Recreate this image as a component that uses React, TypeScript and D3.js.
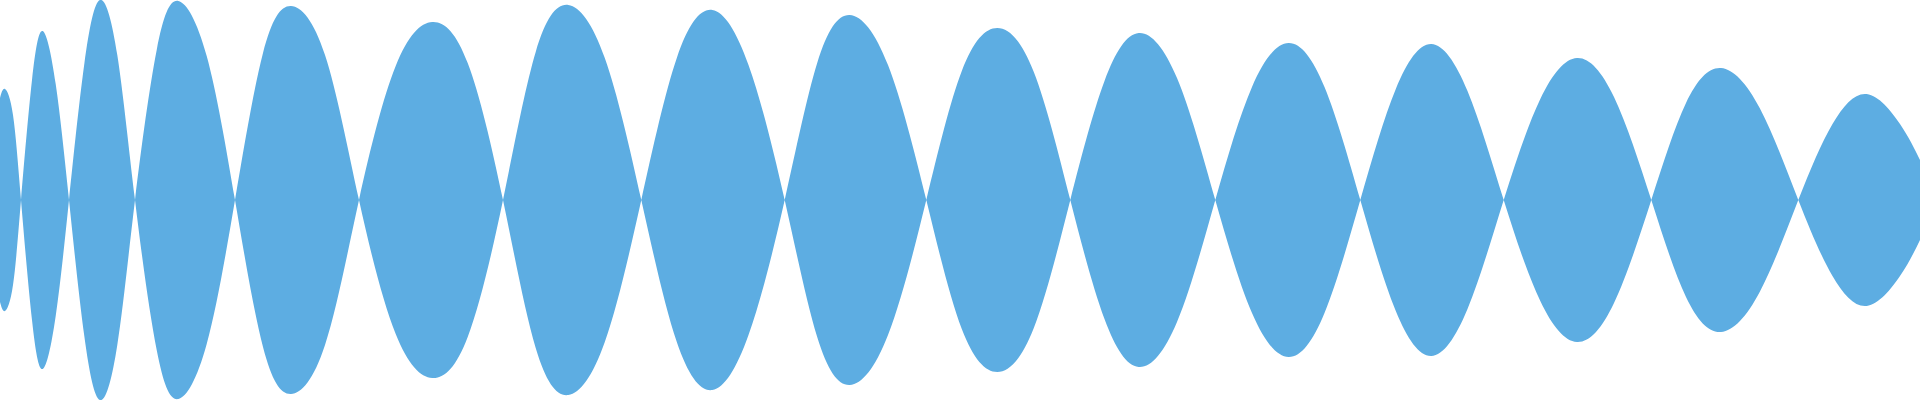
import React from "react";
import * as d3 from "d3";

// Waveform samples: zero crossings, half-way flank points and peaks
// (time in samples, amplitude normalised to ±1)
const times: number[] = [
  0, 5, 13, 21,
  32, 42.7, 55.7, 69,
  84.3, 100, 117.3, 135,
  156.7, 178.3, 206.7, 235,
  263, 291, 325, 359,
  395.7, 432.3, 467.7, 503,
  535.7, 568.3, 604.8, 641.3,
  676.8, 712.3, 748.5, 784.7,
  817.2, 849.7, 888, 926.3,
  961.8, 997.3, 1033.8, 1070.3,
  1104.5, 1138.7, 1177, 1215.3,
  1252, 1288.7, 1324.5, 1360.3,
  1395.8, 1431.3, 1467.5, 1503.7,
  1540.3, 1577, 1614, 1651.3,
  1686, 1721, 1759.7, 1798.3,
  1832.5, 1866.7, 1900, 1920,
];

const amplitudes: number[] = [
  0.51, 0.555, 0.425, 0,
  -0.6, -0.845, -0.58, 0,
  0.68, 1.0, 0.725, 0,
  -0.75, -0.995, -0.72, 0,
  0.735, 0.97, 0.725, 0,
  -0.67, -0.89, -0.685, 0,
  0.74, 0.975, 0.71, 0,
  -0.71, -0.95, -0.675, 0,
  0.685, 0.925, 0.675, 0,
  -0.645, -0.86, -0.64, 0,
  0.595, 0.835, 0.61, 0,
  -0.565, -0.785, -0.565, 0,
  0.555, 0.78, 0.545, 0,
  -0.505, -0.71, -0.515, 0,
  0.485, 0.66, 0.46, 0,
  -0.38, -0.53, -0.38, -0.2,
];

const timeDomain: [number, number] = [0, 1920];
const ampDomain: [number, number] = [-1, 1];

const WIDTH = 1920;
const HEIGHT = 400;
const FILL = "#5DADE2";

export default function App() {
  const data = times.map((t, i) => ({ t, v: amplitudes[i] }));
  const x = d3.scaleLinear().domain(timeDomain).range([0, WIDTH]);
  const y = d3.scaleLinear().domain(ampDomain).range([HEIGHT, 0]);

  const area = d3
    .area<{ t: number; v: number }>()
    .x((d) => x(d.t))
    .y0((d) => y(-d.v))
    .y1((d) => y(d.v))
    .curve(d3.curveNatural);

  return (
    <svg
      width={WIDTH}
      height={HEIGHT}
      style={{ position: "absolute", left: 0, top: 0, display: "block" }}
    >
      <path d={area(data) || ""} fill={FILL} stroke="none" />
    </svg>
  );
}
